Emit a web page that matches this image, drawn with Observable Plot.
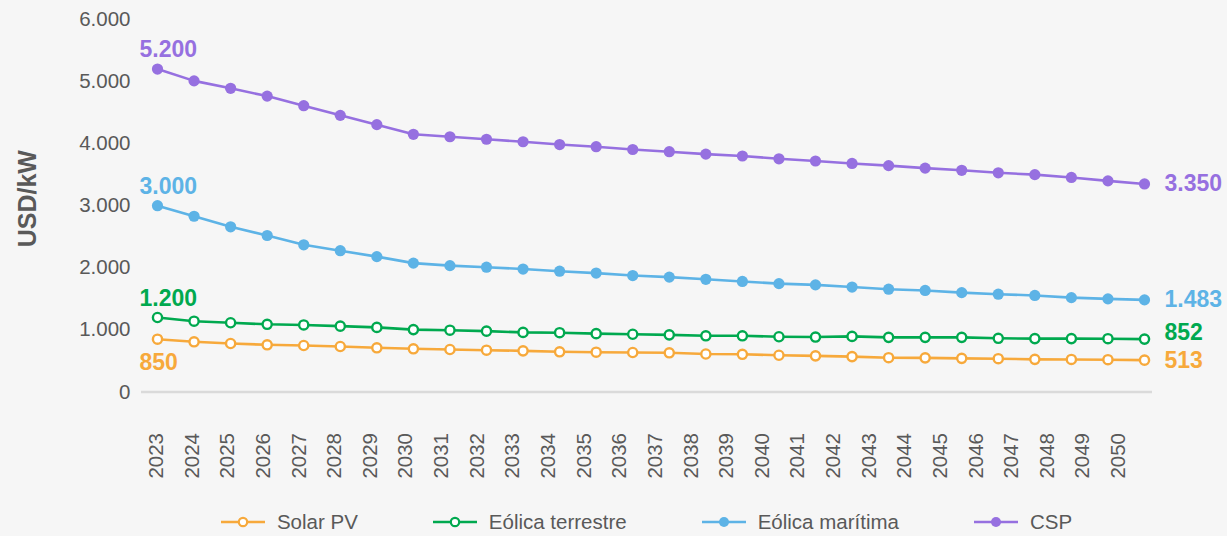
<!DOCTYPE html>
<html>
<head>
<meta charset="utf-8">
<script src="https://cdn.jsdelivr.net/npm/d3@7"></script>
<script src="https://cdn.jsdelivr.net/npm/@observablehq/plot@0.6"></script>
<style>
  html, body { margin: 0; padding: 0; background: #f6f6f6; overflow: hidden; }
  body { width: 1227px; height: 536px; font-family: "Liberation Sans", Arial, Helvetica, sans-serif; }
  #chart { position: relative; width: 1227px; height: 505px; }
  #chart svg { position: absolute; left: 0; top: 0; }
  #legend {
    margin-left: 141px; width: 1011px; height: 34px;
    display: flex; justify-content: center; align-items: center; gap: 75px;
    font-size: 20.5px; color: #595959;
  }
  .item { display: flex; align-items: center; }
  .item svg { margin-right: 12px; }
</style>
</head>
<body>
<div id="chart"></div>
<div id="legend"></div>
<script>
// Capital cost projections, USD/kW, 2023–2050
const years = d3.range(2023, 2051);
const seriesNames = ["Solar PV", "Eólica terrestre", "Eólica marítima", "CSP"];
const seriesColors = ["#f7a93b", "#00a94f", "#5db3e6", "#9670e0"];
const openMarker = [true, true, false, false];

const solarPV = [850, 808, 781, 760, 749, 733, 712, 696, 684, 673, 663, 647, 641, 636,
  631, 612, 607, 592, 582, 570, 552, 550, 542, 536, 526, 524, 520, 513];
const eolicaTerrestre = [1200, 1140, 1115, 1090, 1080, 1060, 1040, 1005, 995, 980, 960, 955, 940, 930,
  920, 905, 905, 890, 885, 895, 880, 880, 880, 865, 860, 860, 858, 852];
const eolicaMaritima = [3000, 2830, 2660, 2520, 2370, 2275, 2180, 2075, 2035, 2010, 1980, 1945, 1915, 1875,
  1850, 1815, 1780, 1745, 1725, 1690, 1655, 1635, 1600, 1575, 1555, 1520, 1500, 1483];
const csp = [5200, 5010, 4890, 4765, 4610, 4455, 4305, 4150, 4110, 4070, 4030, 3985, 3950, 3905,
  3870, 3830, 3800, 3755, 3720, 3680, 3645, 3605, 3570, 3530, 3500, 3455, 3400, 3350];

const yTicks = [0, 1000, 2000, 3000, 4000, 5000, 6000];
const yLabel = "USD/kW";

const seriesValues = [solarPV, eolicaTerrestre, eolicaMaritima, csp];
const rows = seriesNames.flatMap((name, i) =>
  years.map((year, j) => ({series: name, year, value: seriesValues[i][j], open: openMarker[i]})));

const fmt = v => d3.format(",")(v).replace(/,/g, ".");
const first = rows.filter(d => d.year === years[0]);
const last = rows.filter(d => d.year === years[years.length - 1]);
const fontFamily = '"Liberation Sans", Arial, Helvetica, sans-serif';

// left end labels: every one above its point except Solar PV, which sits below
const firstAbove = first.filter(d => d.series !== "Solar PV");
const firstBelow = first.filter(d => d.series === "Solar PV");
const lastUp = last.filter(d => d.series === "Eólica terrestre");
const lastMid = last.filter(d => d.series !== "Eólica terrestre");

const W = 1227, H = 505, MT = 18.9, MB = 113.5;

const chart = Plot.plot({
  width: W,
  height: H,
  marginLeft: 157,
  marginRight: 83,
  marginTop: MT,
  marginBottom: MB,
  style: {background: "#f6f6f6", fontFamily, fontSize: "20.5px", color: "#595959"},
  x: {domain: [years[0], years[years.length - 1]], axis: null},
  y: {domain: [0, 6000]},
  color: {domain: seriesNames, range: seriesColors},
  marks: [
    Plot.ruleY([0], {stroke: "#dadada", strokeWidth: 2.5, insetLeft: -16, insetRight: -8}),
    Plot.axisY({ticks: yTicks, tickSize: 0, tickPadding: 27, tickFormat: fmt, label: null,
      fill: "#595959", fontSize: 20.5}),
    Plot.text([yLabel], {frameAnchor: "left", textAnchor: "middle", text: d => d, rotate: -90,
      dx: -129.5, dy: -7, fontSize: 25, fontWeight: "bold", fill: "#595959"}),
    Plot.line(rows, {x: "year", y: "value", z: "series", stroke: "series", strokeWidth: 2.6, curve: "linear"}),
    Plot.dot(rows.filter(d => !d.open), {x: "year", y: "value", fill: "series", r: 5.6, stroke: "none"}),
    Plot.dot(rows.filter(d => d.open), {x: "year", y: "value", stroke: "series", fill: "white", r: 4.6, strokeWidth: 2.4}),
    Plot.text(firstAbove, {x: "year", y: "value", text: d => fmt(d.value), fill: "series",
      textAnchor: "start", dx: -18, dy: -19, fontSize: 23, fontWeight: "bold"}),
    Plot.text(firstBelow, {x: "year", y: "value", text: d => fmt(d.value), fill: "series",
      textAnchor: "start", dx: -18, dy: 23, fontSize: 23, fontWeight: "bold"}),
    Plot.text(lastMid, {x: "year", y: "value", text: d => fmt(d.value), fill: "series",
      textAnchor: "start", dx: 20, dy: 0, fontSize: 23, fontWeight: "bold"}),
    Plot.text(lastUp, {x: "year", y: "value", text: d => fmt(d.value), fill: "series",
      textAnchor: "start", dx: 20, dy: -6, fontSize: 23, fontWeight: "bold"})
  ]
});

// year axis, laid over the chart on a slightly narrower band of its own
const yearAxis = Plot.plot({
  width: W,
  height: H,
  marginLeft: 156,
  marginRight: 109,
  marginTop: MT,
  marginBottom: MB,
  style: {background: "transparent", fontFamily, fontSize: "20.5px", color: "#595959"},
  x: {domain: [years[0], years[years.length - 1]]},
  marks: [
    Plot.axisX({ticks: years, tickSize: 0, tickPadding: 41, tickRotate: -90, tickFormat: d => String(d),
      label: null, fill: "#595959", fontSize: 20.5})
  ]
});

const holder = document.getElementById("chart");
holder.appendChild(chart);
holder.appendChild(yearAxis);

// legend below the plot, centred on the plotting area
const legend = d3.select("#legend");
seriesNames.forEach((name, i) => {
  const item = legend.append("div").attr("class", "item");
  const s = item.append("svg").attr("width", 44).attr("height", 14);
  s.append("line").attr("x1", 0).attr("x2", 44).attr("y1", 7).attr("y2", 7)
    .attr("stroke", seriesColors[i]).attr("stroke-width", 2.6);
  s.append("circle").attr("cx", 22).attr("cy", 7).attr("r", openMarker[i] ? 4.2 : 5)
    .attr("fill", openMarker[i] ? "white" : seriesColors[i])
    .attr("stroke", openMarker[i] ? seriesColors[i] : "none").attr("stroke-width", 2.2);
  item.append("span").text(name);
});
</script>
</body>
</html>
